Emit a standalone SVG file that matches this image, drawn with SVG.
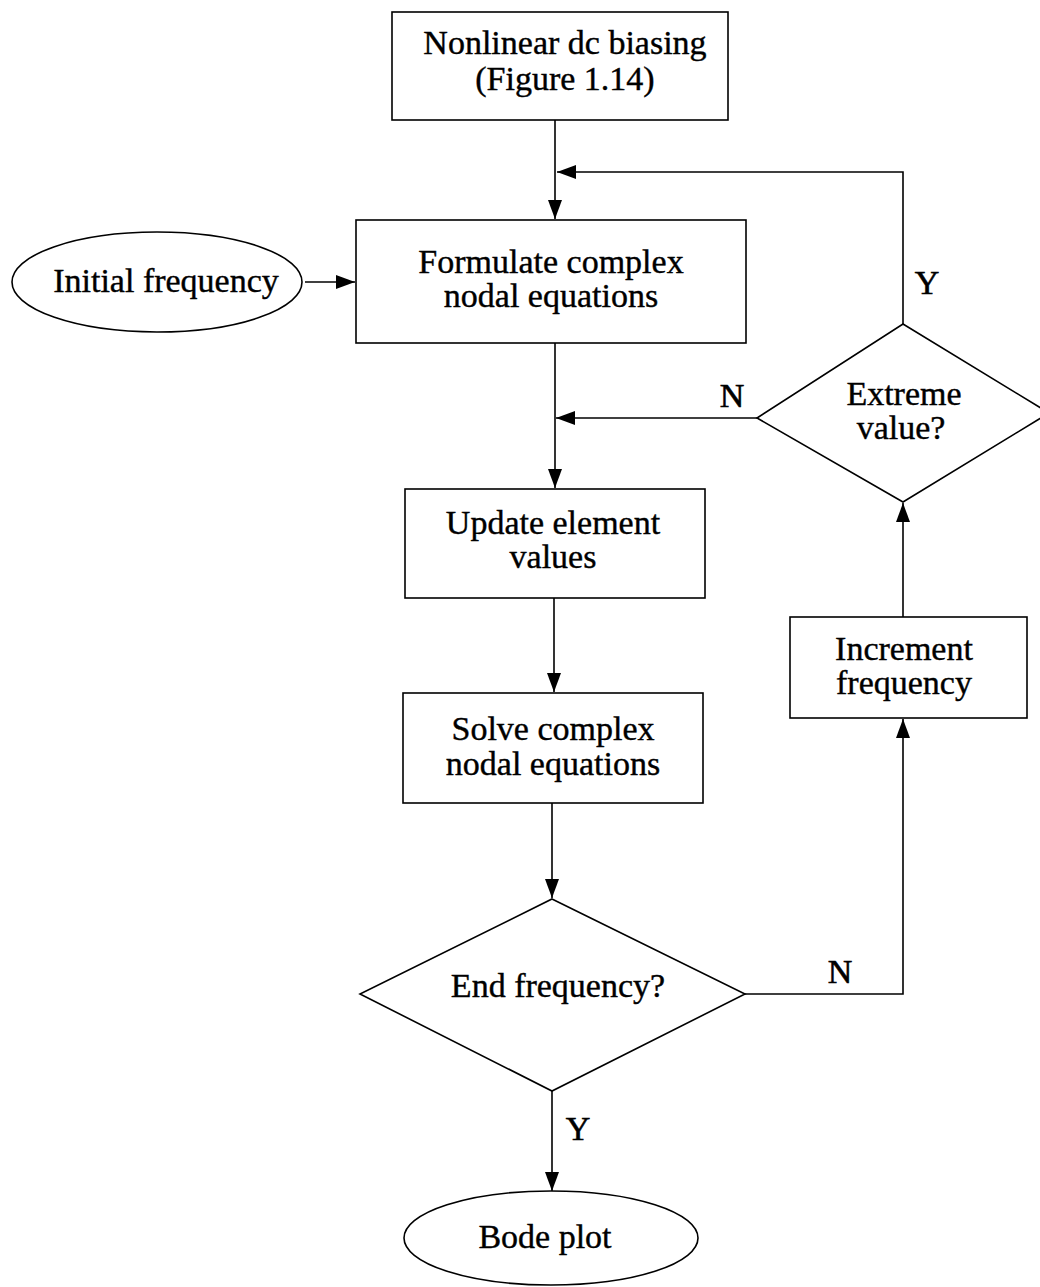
<svg xmlns="http://www.w3.org/2000/svg" width="1040" height="1287" viewBox="0 0 1040 1287">
<defs>
<marker id="ah" markerWidth="20" markerHeight="16" refX="19" refY="8" orient="auto" markerUnits="userSpaceOnUse">
<path d="M0,1 L19,8 L0,15 z" fill="#000"/>
</marker>
<style>
.s{fill:#fff;stroke:#000;stroke-width:1.6}
.c{fill:none;stroke:#000;stroke-width:1.6}
.t{font-family:"Liberation Serif","Times New Roman",serif;font-size:34px;fill:#000;text-anchor:middle;stroke:#000;stroke-width:0.4}
.l{font-family:"Liberation Serif","Times New Roman",serif;font-size:34px;fill:#000;text-anchor:middle;stroke:#000;stroke-width:0.6}
</style>
</defs>
<rect width="1040" height="1287" fill="#fff"/>
<g id="connectors">
<line class="c" x1="555" y1="120" x2="555" y2="219" marker-end="url(#ah)"/>
<polyline class="c" points="903,324 903,172 557,172" marker-end="url(#ah)"/>
<line class="c" x1="305" y1="282" x2="355" y2="282" marker-end="url(#ah)"/>
<line class="c" x1="555" y1="343" x2="555" y2="488" marker-end="url(#ah)"/>
<line class="c" x1="757" y1="418" x2="556" y2="418" marker-end="url(#ah)"/>
<line class="c" x1="554" y1="598" x2="554" y2="692" marker-end="url(#ah)"/>
<line class="c" x1="552" y1="803" x2="552" y2="898" marker-end="url(#ah)"/>
<polyline class="c" points="745,994 903,994 903,719" marker-end="url(#ah)"/>
<line class="c" x1="903" y1="617" x2="903" y2="503" marker-end="url(#ah)"/>
<line class="c" x1="552" y1="1091" x2="552" y2="1191" marker-end="url(#ah)"/>
<text class="l" x="927" y="294">Y</text>
<text class="l" x="732" y="407">N</text>
<text class="l" x="840" y="983">N</text>
<text class="l" x="578" y="1140">Y</text>
</g>
<g id="n-nonlinear">
<rect class="s" x="392" y="12" width="336" height="108"/>
<text class="t" x="565" y="54">Nonlinear dc biasing</text>
<text class="t" x="565" y="90">(Figure 1.14)</text>
</g>
<g id="n-initial">
<ellipse class="s" cx="157" cy="282" rx="145" ry="50"/>
<text class="t" x="166" y="292">Initial frequency</text>
</g>
<g id="n-formulate">
<rect class="s" x="356" y="220" width="390" height="123"/>
<text class="t" x="551" y="273">Formulate complex</text>
<text class="t" x="551" y="307">nodal equations</text>
</g>
<g id="n-extreme">
<polygon class="s" points="903,324 1049,413 903,502 757,418"/>
<text class="t" x="904" y="405">Extreme</text>
<text class="t" x="901" y="439">value?</text>
</g>
<g id="n-update">
<rect class="s" x="405" y="489" width="300" height="109"/>
<text class="t" x="553" y="534">Update element</text>
<text class="t" x="553" y="568">values</text>
</g>
<g id="n-increment">
<rect class="s" x="790" y="617" width="237" height="101"/>
<text class="t" x="904" y="660">Increment</text>
<text class="t" x="904" y="694">frequency</text>
</g>
<g id="n-solve">
<rect class="s" x="403" y="693" width="300" height="110"/>
<text class="t" x="553" y="740">Solve complex</text>
<text class="t" x="553" y="775">nodal equations</text>
</g>
<g id="n-end">
<polygon class="s" points="552,899 745,994 552,1091 360,994"/>
<text class="t" x="558" y="997">End frequency?</text>
</g>
<g id="n-bode">
<ellipse class="s" cx="551" cy="1238" rx="147" ry="47"/>
<text class="t" x="545" y="1248">Bode plot</text>
</g>
</svg>
